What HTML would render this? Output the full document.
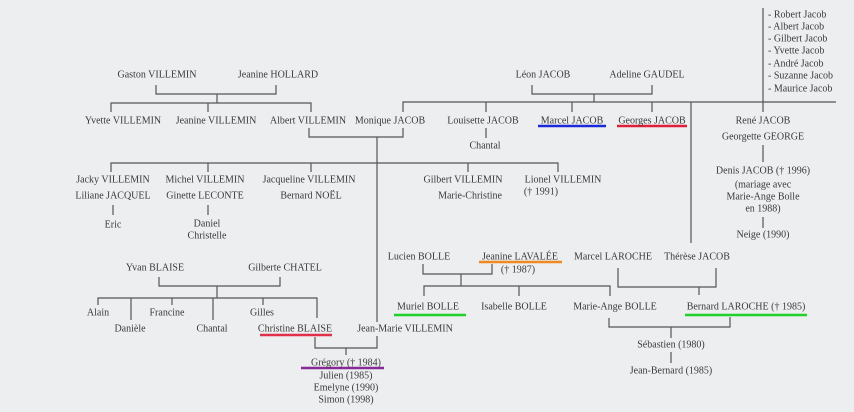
<!DOCTYPE html>
<html><head><meta charset="utf-8"><style>
html,body{margin:0;padding:0;background:#eceeef;}
svg{display:block}
svg text{font-family:'Liberation Serif','DejaVu Serif',serif !important;font-size:10px;fill:#3a3a3a;text-anchor:middle;dominant-baseline:central}
svg text.l{text-anchor:start}
</style></head><body>
<svg width="854" height="412" viewBox="0 0 854 412" font-family="Liberation Serif, serif">
<rect width="854" height="412" fill="#eceeef"/>
<g stroke="#555" stroke-width="1.2" fill="none">
<path d="M156 85V94H276V85M217 94V103M111 112V103H311V112M208 103V112"/>
<path d="M309 128V137H403V128M403 112V102H836M486 102V112M572 102V112M652 102V112M691 102V243M763 8V112"/>
<path d="M532 85V94H652V85M594 94V102"/>
<path d="M486 128V138M763 145V162M763 217V228"/>
<path d="M377 137V322M111 172V163H558V172M208 163V172M311 163V172M468 163V172"/>
<path d="M113 205V215M208 205V215"/>
<path d="M159 277V286H280V277M217 286V298M98 305V298H317V318M131 298V320M172 298V305M213 298V320M263 298V305"/>
<path d="M315 337V348H377V336M346 348V355"/>
<path d="M423 264V274H492V264M461 274V286M424 296V286H610V296M519 286V296"/>
<path d="M618 268V287H716V268M699 287V295"/>
<path d="M609 318V327H730V317M671 327V338M671 352V363"/>
</g>
<g stroke-width="2.5">
<line x1="538" y1="126" x2="606" y2="126" stroke="#1a2ad8"/>
<line x1="617" y1="126" x2="687" y2="126" stroke="#e0203a"/>
<line x1="260" y1="335" x2="332" y2="335" stroke="#e0304a"/>
<line x1="301" y1="368" x2="384" y2="368" stroke="#8a2a9a"/>
<line x1="479" y1="262" x2="562" y2="262" stroke="#f08a20"/>
<line x1="394" y1="315" x2="466" y2="315" stroke="#22d02a"/>
<line x1="685" y1="315" x2="807" y2="315" stroke="#22d02a"/>
</g>
<text x="157" y="75">Gaston VILLEMIN</text>
<text x="278" y="75">Jeanine HOLLARD</text>
<text x="123" y="121">Yvette VILLEMIN</text>
<text x="216" y="121">Jeanine VILLEMIN</text>
<text x="308" y="121">Albert VILLEMIN</text>
<text x="390" y="121">Monique JACOB</text>
<text x="543" y="75">Léon JACOB</text>
<text x="647" y="75">Adeline GAUDEL</text>
<text x="483" y="121">Louisette JACOB</text>
<text x="572" y="121">Marcel JACOB</text>
<text x="652" y="121">Georges JACOB</text>
<text x="763" y="121">René JACOB</text>
<text x="763" y="137">Georgette GEORGE</text>
<text x="763" y="171">Denis JACOB († 1996)</text>
<text x="763" y="185">(mariage avec</text>
<text x="763" y="197">Marie-Ange Bolle</text>
<text x="763" y="209">en 1988)</text>
<text x="763" y="235">Neige (1990)</text>
<text class="l" x="768" y="15">- Robert Jacob</text>
<text class="l" x="768" y="27">- Albert Jacob</text>
<text class="l" x="768" y="39">- Gilbert Jacob</text>
<text class="l" x="768" y="51">- Yvette Jacob</text>
<text class="l" x="768" y="64">- André Jacob</text>
<text class="l" x="768" y="76">- Suzanne Jacob</text>
<text class="l" x="768" y="89">- Maurice Jacob</text>
<text x="485" y="146">Chantal</text>
<text x="113" y="180">Jacky VILLEMIN</text>
<text x="113" y="196">Liliane JACQUEL</text>
<text x="113" y="225">Eric</text>
<text x="205" y="180">Michel VILLEMIN</text>
<text x="205" y="196">Ginette LECONTE</text>
<text x="207" y="224">Daniel</text>
<text x="207" y="236">Christelle</text>
<text x="309" y="180">Jacqueline VILLEMIN</text>
<text x="311" y="196">Bernard NOËL</text>
<text x="463" y="180">Gilbert VILLEMIN</text>
<text x="470" y="196">Marie-Christine</text>
<text x="563" y="180">Lionel VILLEMIN</text>
<text x="541" y="192">(† 1991)</text>
<text x="155" y="268">Yvan BLAISE</text>
<text x="285" y="268">Gilberte CHATEL</text>
<text x="98" y="313">Alain</text>
<text x="130" y="329">Danièle</text>
<text x="167" y="313">Francine</text>
<text x="212" y="329">Chantal</text>
<text x="262" y="313">Gilles</text>
<text x="295" y="329">Christine BLAISE</text>
<text x="405" y="329">Jean-Marie VILLEMIN</text>
<text x="346" y="363">Grégory († 1984)</text>
<text x="346" y="376">Julien (1985)</text>
<text x="346" y="388">Emelyne (1990)</text>
<text x="346" y="400">Simon (1998)</text>
<text x="419" y="257">Lucien BOLLE</text>
<text x="520" y="257">Jeanine LAVALÉE</text>
<text x="518" y="270">(† 1987)</text>
<text x="613" y="257">Marcel LAROCHE</text>
<text x="697" y="257">Thérèse JACOB</text>
<text x="428" y="307">Muriel BOLLE</text>
<text x="514" y="307">Isabelle BOLLE</text>
<text x="615" y="307">Marie-Ange BOLLE</text>
<text x="746" y="307">Bernard LAROCHE († 1985)</text>
<text x="671" y="345">Sébastien (1980)</text>
<text x="671" y="371">Jean-Bernard (1985)</text>
</svg>
</body></html>
